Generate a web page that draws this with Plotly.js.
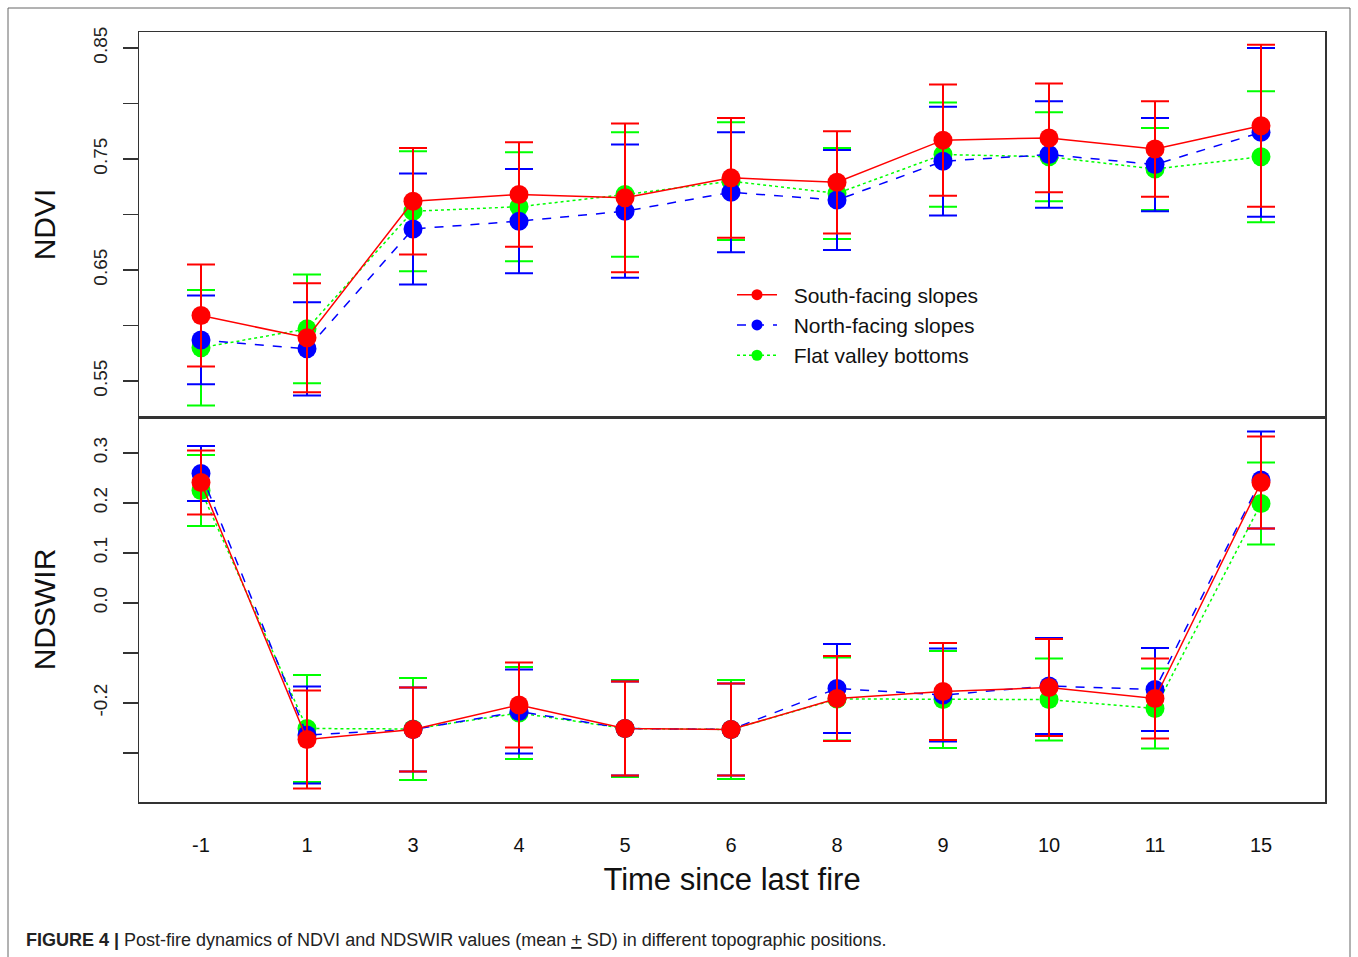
<!DOCTYPE html>
<html><head><meta charset="utf-8">
<script src="https://cdn.plot.ly/plotly-3.0.1.min.js"></script>
<style>html,body{margin:0;padding:0;background:#fff}#chart{width:1358px;height:957px}</style>
</head><body><div id="chart"></div>
<script>
// Categories (time since last fire, years)
const years = ['-1','1','3','4','5','6','8','9','10','11','15'];

// NDVI (mean, SD)
const ndviSouth   = [0.609, 0.589, 0.712, 0.718, 0.715, 0.733, 0.729, 0.767, 0.769, 0.759, 0.780];
const ndviSouthSD = [0.046, 0.049, 0.048, 0.047, 0.067, 0.054, 0.046, 0.050, 0.049, 0.043, 0.073];
const ndviNorth   = [0.587, 0.579, 0.687, 0.694, 0.703, 0.720, 0.713, 0.748, 0.754, 0.745, 0.774];
const ndviNorthSD = [0.040, 0.042, 0.050, 0.047, 0.060, 0.054, 0.045, 0.049, 0.048, 0.042, 0.076];
const ndviFlat    = [0.580, 0.597, 0.703, 0.707, 0.718, 0.730, 0.719, 0.754, 0.752, 0.741, 0.752];
const ndviFlatSD  = [0.052, 0.049, 0.054, 0.049, 0.056, 0.053, 0.041, 0.047, 0.040, 0.037, 0.059];

// NDSWIR (mean, SD)
const swirSouth   = [0.241, -0.273, -0.253, -0.204, -0.251, -0.253, -0.191, -0.177, -0.169, -0.191, 0.241];
const swirSouthSD = [0.064, 0.098, 0.084, 0.085, 0.094, 0.092, 0.085, 0.097, 0.097, 0.080, 0.092];
const swirNorth   = [0.259, -0.264, -0.253, -0.217, -0.251, -0.253, -0.171, -0.184, -0.166, -0.173, 0.246];
const swirNorthSD = [0.055, 0.097, 0.084, 0.084, 0.094, 0.092, 0.089, 0.093, 0.096, 0.083, 0.097];
const swirFlat    = [0.225, -0.251, -0.252, -0.220, -0.251, -0.253, -0.192, -0.193, -0.193, -0.211, 0.199];
const swirFlatSD  = [0.071, 0.107, 0.102, 0.092, 0.097, 0.099, 0.083, 0.097, 0.082, 0.080, 0.082];

// Axis ticks
const ndviTicks  = [0.55, 0.60, 0.65, 0.70, 0.75, 0.80, 0.85];
const ndviLabels = ['0.55', '', '0.65', '', '0.75', '', '0.85'];
const swirTicks  = [-0.4, -0.3, -0.2, -0.1, 0.0, 0.1, 0.2, 0.3];
const swirLabels = ['-0.4', '', '-0.2', '', '0.0', '0.1', '0.2', '0.3'];

const seriesNames = ['Flat valley bottoms', 'North-facing slopes', 'South-facing slopes'];
const colors = ['#00ff00', '#0000ff', '#ff0000'];
const dashes = ['dot', 'dash', 'solid'];

const ndviMeans = [ndviFlat, ndviNorth, ndviSouth];
const ndviSDs = [ndviFlatSD, ndviNorthSD, ndviSouthSD];
const swirMeans = [swirFlat, swirNorth, swirSouth];
const swirSDs = [swirFlatSD, swirNorthSD, swirSouthSD];

const traces = [];
function mk(i, y, sd, xa, ya) {
  return {
    type: 'scatter', mode: 'lines+markers', name: seriesNames[i],
    x: years, y: y, xaxis: xa, yaxis: ya, showlegend: false, legendgroup: seriesNames[i],
    line: {color: colors[i], width: 1.5, dash: dashes[i]},
    marker: {color: colors[i], size: 19},
    error_y: {type: 'data', array: sd, visible: true, color: colors[i], thickness: 2, width: 14}
  };
}
for (let i = 0; i < 3; i++) traces.push(mk(i, ndviMeans[i], ndviSDs[i], 'x2', 'y'));
for (let i = 0; i < 3; i++) traces.push(mk(i, swirMeans[i], swirSDs[i], 'x', 'y2'));
// legend entries (small markers as in the reference legend); they carry no visible point
const NB = '\u00a0\u00a0';
for (let i = 0; i < 3; i++) traces.push({
  type: 'scatter', mode: 'lines+markers', name: NB + seriesNames[i], x: [years[0]], y: [null],
  xaxis: 'x2', yaxis: 'y', showlegend: true, legendgroup: seriesNames[i],
  line: {color: colors[i], width: 1.5, dash: dashes[i]}, marker: {color: colors[i], size: 11}
});

const W = 1358, H = 957, L = 139, R = 1325, T = 32, B = 802;
const pw = R - L, ph = B - T;
const px = v => (v - L) / pw;
const py = v => (B - v) / ph;

const FF = 'Liberation Sans, Arial, sans-serif';
const axisFont = {family: FF, size: 19, color: '#222'};
const xRange = [-62 / 106, -62 / 106 + pw / 106];

const layout = {
  width: W, height: H,
  margin: {l: L, r: W - R, t: T, b: H - B, pad: 0},
  paper_bgcolor: '#fff', plot_bgcolor: '#fff',
  showlegend: true,
  legend: {
    x: px(732), y: py(325), xanchor: 'left', yanchor: 'middle',
    traceorder: 'reversed', itemwidth: 40,
    font: {family: FF, size: 21, color: '#111'},
    bgcolor: 'rgba(0,0,0,0)', tracegroupgap: 0
  },
  xaxis: {
    domain: [0, 1], anchor: 'y2', type: 'category', range: xRange,
    showgrid: false, zeroline: false, showline: true, mirror: true, linecolor: '#333', linewidth: 1.5,
    ticks: 'outside', ticklen: 24, tickcolor: 'rgba(0,0,0,0)', tickfont: {family: FF, size: 20, color: '#111'},
    title: {text: 'Time since last fire', font: {family: FF, size: 31, color: '#111'}, standoff: 14}
  },
  xaxis2: {
    domain: [0, 1], anchor: 'y', type: 'category', range: xRange, matches: 'x',
    showgrid: false, zeroline: false, showline: true, mirror: true, linecolor: '#333', linewidth: 1.5,
    showticklabels: false, ticks: ''
  },
  yaxis: {
    domain: [0.5, 1], anchor: 'x2', range: [0.5176, 0.8644],
    tickvals: ndviTicks, ticktext: ndviLabels, tickangle: -90,
    ticks: 'outside', ticklen: 15, tickcolor: '#333', tickwidth: 1.2, tickfont: axisFont, ticklabelstandoff: 8,
    showgrid: false, zeroline: false, showline: true, mirror: true, linecolor: '#333', linewidth: 1.5,
    title: {text: 'NDVI', font: {family: FF, size: 30, color: '#111'}, standoff: 25}
  },
  yaxis2: {
    domain: [0, 0.5], anchor: 'x', range: [-0.398, 0.372],
    tickvals: swirTicks, ticktext: swirLabels, tickangle: -90,
    ticks: 'outside', ticklen: 15, tickcolor: '#333', tickwidth: 1.2, tickfont: axisFont, ticklabelstandoff: 8,
    showgrid: false, zeroline: false, showline: true, mirror: true, linecolor: '#333', linewidth: 1.5,
    title: {text: 'NDSWIR', font: {family: FF, size: 30, color: '#111'}, standoff: 25}
  },
  shapes: [
    {type: 'rect', xref: 'paper', yref: 'paper', x0: px(8), x1: px(1350), y0: py(965), y1: py(8),
     line: {color: '#666', width: 1}, fillcolor: 'rgba(0,0,0,0)', layer: 'below'}
  ],
  annotations: [
    {xref: 'paper', yref: 'paper', x: px(24), y: py(940), xanchor: 'left', yanchor: 'middle', showarrow: false,
     text: '<b>FIGURE 4 |</b> Post-fire dynamics of NDVI and NDSWIR values (mean <u>+</u> SD) in different topographic positions.',
     font: {family: FF, size: 18, color: '#222'}}
  ]
};

Plotly.newPlot('chart', traces, layout, {displayModeBar: false, staticPlot: true});
</script>
</body></html>
